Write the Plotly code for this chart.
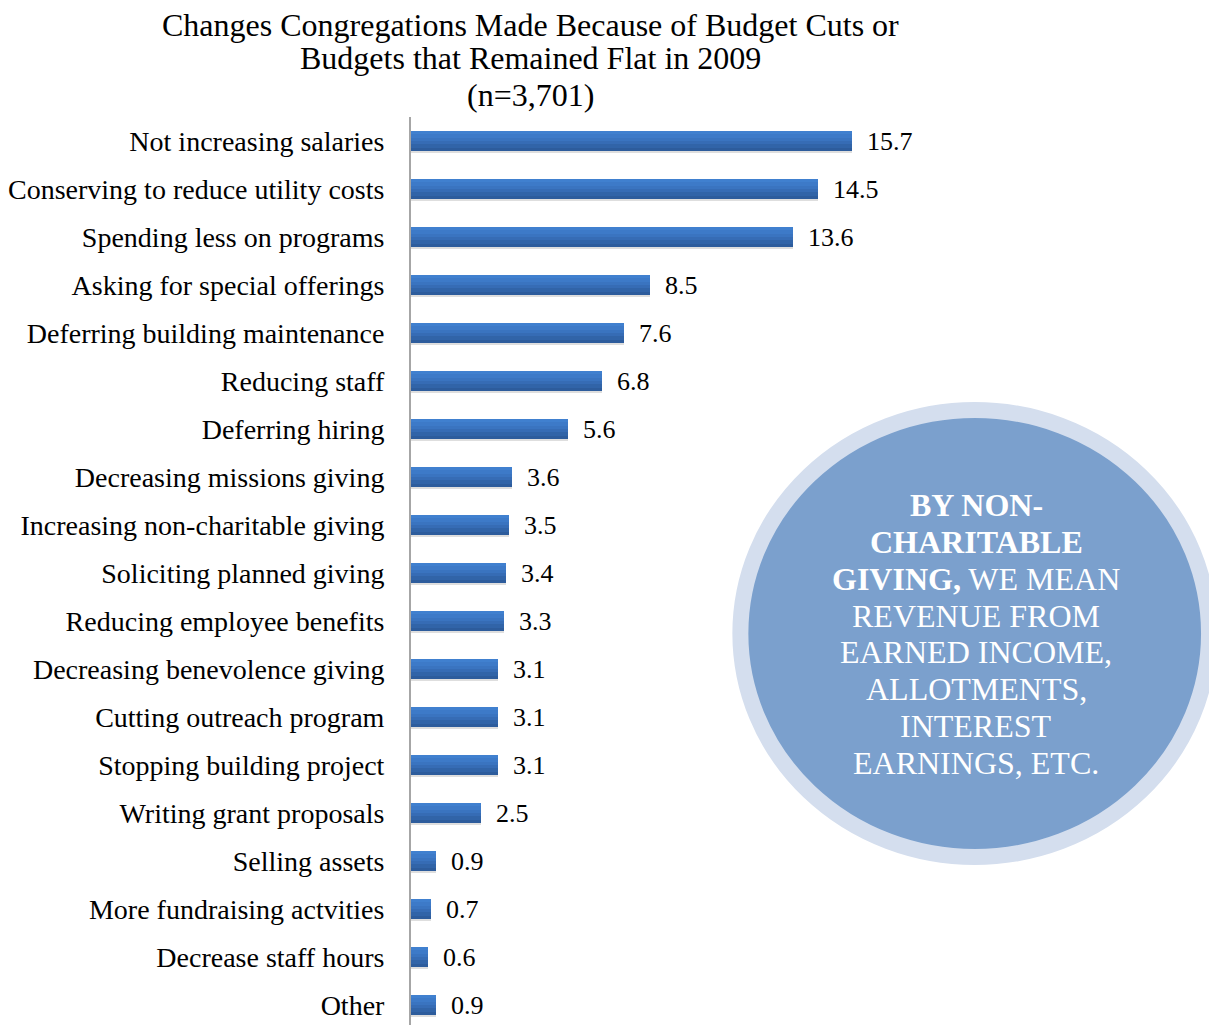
import plotly.graph_objects as go

categories = [
    "Not increasing salaries", "Conserving to reduce utility costs", "Spending less on programs",
    "Asking for special offerings", "Deferring building maintenance", "Reducing staff",
    "Deferring hiring", "Decreasing missions giving", "Increasing non-charitable giving",
    "Soliciting planned giving", "Reducing employee benefits", "Decreasing benevolence giving",
    "Cutting outreach program", "Stopping building project", "Writing grant proposals",
    "Selling assets", "More fundraising actvities", "Decrease staff hours", "Other",
]
values = [15.7, 14.5, 13.6, 8.5, 7.6, 6.8, 5.6, 3.6, 3.5, 3.4, 3.3, 3.1, 3.1, 3.1, 2.5, 0.9, 0.7, 0.6, 0.9]
value_labels = ["15.7", "14.5", "13.6", "8.5", "7.6", "6.8", "5.6", "3.6", "3.5", "3.4", "3.3",
                "3.1", "3.1", "3.1", "2.5", "0.9", "0.7", "0.6", "0.9"]
title_lines = ["Changes Congregations Made Because of Budget Cuts or",
               "Budgets that Remained Flat in 2009", "(n=3,701)"]
note_lines = ["<b>BY NON-</b>", "<b>CHARITABLE</b>", "<b>GIVING,</b> WE MEAN", "REVENUE FROM",
              "EARNED INCOME,", "ALLOTMENTS,", "INTEREST", "EARNINGS, ETC."]

OFF = 8                      # page body margin
W, H = 1217 - OFF, 1025 - OFF
L, T = 407 - OFF, 117 - OFF  # plot area origin (figure px)
FONT = "Liberation Serif, Times New Roman, serif"


def px_x(p):  # p in page pixels
    return (p - OFF - L) / (W - L)


def px_y(p):
    return (H - (p - OFF)) / (H - T)


fig = go.Figure()

# faint shadow under bars
fig.add_trace(go.Bar(x=values, y=categories, orientation="h", offset=-0.17, width=0.42,
                     marker=dict(color="rgba(0,0,0,0.13)", line=dict(width=0)),
                     hoverinfo="skip", showlegend=False))
# gradient bands (top lighter -> bottom darker)
band_colors = ["#4080CF", "#3D7AC8", "#3A74C0", "#366CB5", "#3164A8", "#2D5C9C"]
n = len(band_colors)
bw = 0.42 / n
for k, c in enumerate(band_colors):
    fig.add_trace(go.Bar(x=values, y=categories, orientation="h", offset=-0.21 + k * bw,
                         width=bw + 0.004, marker=dict(color=c, line=dict(width=0)),
                         showlegend=False))

annotations = []
for cat, v, lab in zip(categories, values, value_labels):
    annotations.append(dict(x=v, y=cat, xref="x", yref="y", text=lab, showarrow=False,
                            xanchor="left", yanchor="middle", xshift=13,
                            font=dict(family=FONT, size=26, color="#000000")))

title_y = [25, 58, 95]
for t, yy in zip(title_lines, title_y):
    annotations.append(dict(x=px_x(527), y=px_y(yy), xref="paper", yref="paper", text=t,
                            showarrow=False, xanchor="center", yanchor="middle",
                            font=dict(family=FONT, size=32, color="#000000")))

note_y = [505, 542, 579, 616, 652, 689, 726, 763]
for t, yy in zip(note_lines, note_y):
    annotations.append(dict(x=px_x(975), y=px_y(yy), xref="paper", yref="paper", text=t,
                            showarrow=False, xanchor="center", yanchor="middle",
                            font=dict(family=FONT, size=32, color="#FFFFFF")))

fig.update_layout(
    width=W, height=H,
    margin=dict(l=L, r=0, t=T, b=0, pad=0),
    paper_bgcolor="white", plot_bgcolor="white",
    barmode="overlay", bargap=0,
    showlegend=False,
    xaxis=dict(range=[0, (W - L) / 28.2], visible=False, fixedrange=True),
    yaxis=dict(type="category", categoryorder="array", categoryarray=categories,
               range=[(H - T) / 48 - 0.5, -0.5], showgrid=False, zeroline=False,
               showline=True, linecolor="#A6A6A6", linewidth=2, ticks="",
               ticklabelstandoff=19,
               tickfont=dict(family=FONT, size=28, color="#000000")),
    shapes=[dict(type="circle", xref="paper", yref="paper",
                 x0=px_x(738), x1=px_x(1209), y0=px_y(857), y1=px_y(410),
                 fillcolor="#7BA0CD", line=dict(color="#D4DEEE", width=16), layer="above")],
    annotations=annotations,
)

fig.write_html("out.html")
